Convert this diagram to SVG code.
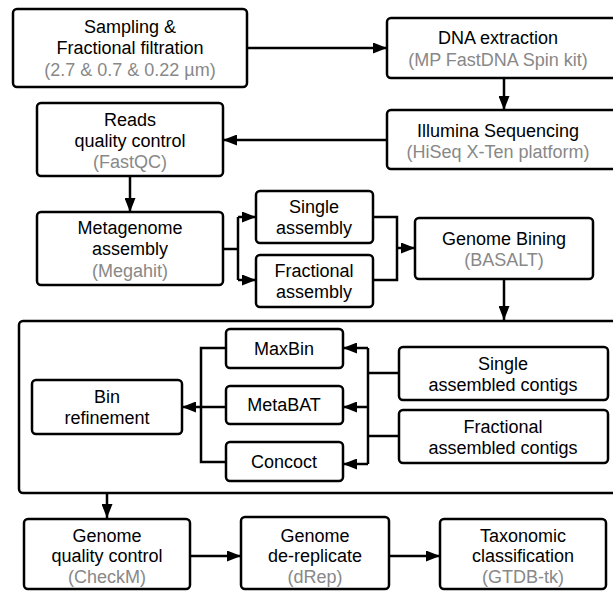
<svg xmlns="http://www.w3.org/2000/svg" width="613" height="591" viewBox="0 0 613 591">
<style>
.box{fill:#fff;stroke:#000;stroke-width:2.5}
.t{font-family:"Liberation Sans",Arial,sans-serif;font-size:18px;fill:#000;text-anchor:middle}
.g{fill:#888}
.c{fill:none;stroke:#000;stroke-width:2.5}
</style>
<defs>
<marker id="a" viewBox="0 0 14 11" refX="14" refY="5.5" markerWidth="5.6" markerHeight="4.4" orient="auto" markerUnits="strokeWidth">
<path d="M0,0 L14,5.5 L0,11 z" fill="#000"/>
</marker>
</defs>
<g id="connectors">
<path class="c" d="M247,48 H387" marker-end="url(#a)"/>
<path class="c" d="M504,78 V110" marker-end="url(#a)"/>
<path class="c" d="M387,140 H223" marker-end="url(#a)"/>
<path class="c" d="M130,176 V212" marker-end="url(#a)"/>
<path class="c" d="M223,249 H238"/>
<path class="c" d="M238,217 V280"/>
<path class="c" d="M238,217 H256" marker-end="url(#a)"/>
<path class="c" d="M238,280 H256" marker-end="url(#a)"/>
<path class="c" d="M373,217 H397 V280 H373"/>
<path class="c" d="M397,248 H415" marker-end="url(#a)"/>
<path class="c" d="M504,279 V320" marker-end="url(#a)"/>
<path class="c" d="M226,348 H201 V462 H226"/>
<path class="c" d="M201,407 H226"/>
<path class="c" d="M201,407 H182" marker-end="url(#a)"/>
<path class="c" d="M368,348 V464"/>
<path class="c" d="M368,348 H343" marker-end="url(#a)"/>
<path class="c" d="M368,407 H343" marker-end="url(#a)"/>
<path class="c" d="M368,464 H343" marker-end="url(#a)"/>
<path class="c" d="M368,373 H399"/>
<path class="c" d="M368,436 H399"/>
<path class="c" d="M107,493 V518" marker-end="url(#a)"/>
<path class="c" d="M190,556 H241" marker-end="url(#a)"/>
<path class="c" d="M389,556 H440" marker-end="url(#a)"/>
</g>
<g id="container"><rect class="box" x="19" y="321" width="600" height="172" rx="4" style="fill:none"/></g>
<g id="sampling">
<rect class="box" x="13" y="9" width="234" height="78" rx="4"/>
<text class="t" x="130" y="33">Sampling &amp;</text>
<text class="t" x="130" y="54">Fractional filtration</text>
<text class="t g" x="130" y="76">(2.7 &amp; 0.7 &amp; 0.22 µm)</text>
</g>
<g id="dna">
<rect class="box" x="387" y="18" width="235" height="60" rx="4"/>
<text class="t" x="498" y="44">DNA extraction</text>
<text class="t g" x="498" y="66">(MP FastDNA Spin kit)</text>
</g>
<g id="illumina">
<rect class="box" x="387" y="110" width="235" height="59" rx="4"/>
<text class="t" x="498" y="137">Illumina Sequencing</text>
<text class="t g" x="498" y="158">(HiSeq X-Ten platform)</text>
</g>
<g id="reads">
<rect class="box" x="37" y="103" width="186" height="73" rx="4"/>
<text class="t" x="130" y="126">Reads</text>
<text class="t" x="130" y="147">quality control</text>
<text class="t g" x="130" y="168">(FastQC)</text>
</g>
<g id="metagenome">
<rect class="box" x="37" y="212" width="186" height="73" rx="4"/>
<text class="t" x="130" y="234">Metagenome</text>
<text class="t" x="130" y="255">assembly</text>
<text class="t g" x="130" y="277">(Megahit)</text>
</g>
<g id="single-assembly">
<rect class="box" x="256" y="191" width="117" height="52" rx="4"/>
<text class="t" x="314" y="213">Single</text>
<text class="t" x="314" y="234">assembly</text>
</g>
<g id="fractional-assembly">
<rect class="box" x="256" y="255" width="117" height="52" rx="4"/>
<text class="t" x="314" y="277">Fractional</text>
<text class="t" x="314" y="298">assembly</text>
</g>
<g id="bining">
<rect class="box" x="415" y="218" width="178" height="61" rx="4"/>
<text class="t" x="504" y="245">Genome Bining</text>
<text class="t g" x="504" y="266">(BASALT)</text>
</g>
<g id="maxbin">
<rect class="box" x="226" y="329" width="117" height="39" rx="4"/>
<text class="t" x="284" y="355">MaxBin</text>
</g>
<g id="metabat">
<rect class="box" x="226" y="386" width="117" height="38" rx="4"/>
<text class="t" x="284" y="411">MetaBAT</text>
</g>
<g id="concoct">
<rect class="box" x="226" y="442" width="117" height="39" rx="4"/>
<text class="t" x="284" y="468">Concoct</text>
</g>
<g id="binrefinement">
<rect class="box" x="32" y="380" width="150" height="54" rx="4"/>
<text class="t" x="107" y="403">Bin</text>
<text class="t" x="107" y="424">refinement</text>
</g>
<g id="single-contigs">
<rect class="box" x="399" y="347" width="209" height="53" rx="4"/>
<text class="t" x="503" y="370">Single</text>
<text class="t" x="503" y="391">assembled contigs</text>
</g>
<g id="fractional-contigs">
<rect class="box" x="399" y="410" width="209" height="53" rx="4"/>
<text class="t" x="503" y="433">Fractional</text>
<text class="t" x="503" y="454">assembled contigs</text>
</g>
<g id="checkm">
<rect class="box" x="24" y="519" width="166" height="70" rx="4"/>
<text class="t" x="107" y="542">Genome</text>
<text class="t" x="107" y="562">quality control</text>
<text class="t g" x="107" y="583">(CheckM)</text>
</g>
<g id="drep">
<rect class="box" x="241" y="517" width="148" height="72" rx="4"/>
<text class="t" x="315" y="542">Genome</text>
<text class="t" x="315" y="562">de-replicate</text>
<text class="t g" x="315" y="583">(dRep)</text>
</g>
<g id="gtdb">
<rect class="box" x="440" y="519" width="166" height="70" rx="4"/>
<text class="t" x="523" y="542">Taxonomic</text>
<text class="t" x="523" y="562">classification</text>
<text class="t g" x="523" y="583">(GTDB-tk)</text>
</g>
</svg>
